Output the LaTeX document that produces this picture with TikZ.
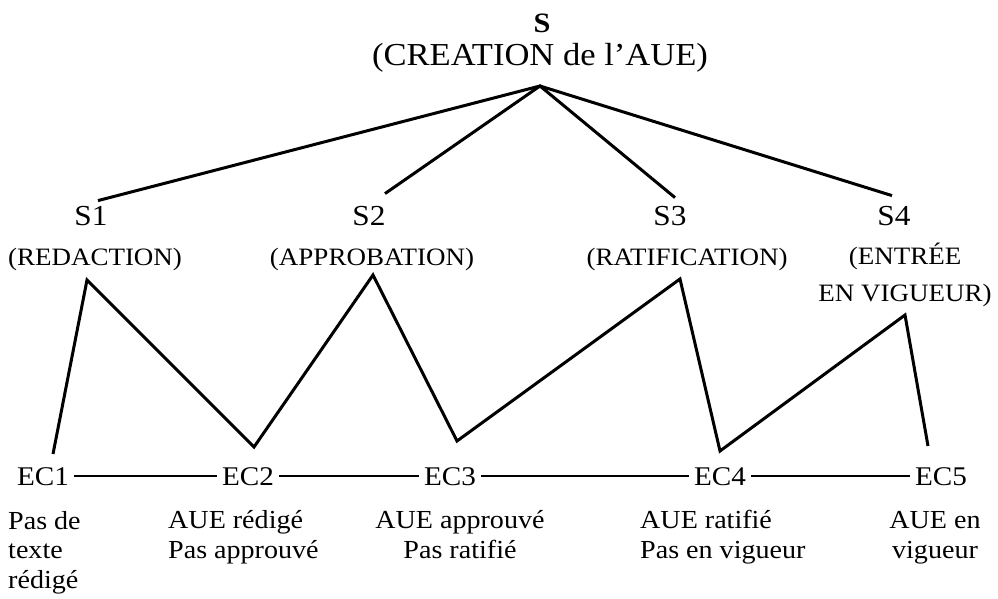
\documentclass[tikz,border=0pt]{standalone}
\usepackage{fontspec}
\setmainfont{Liberation Serif}[FakeStretch=1.08]
\begin{document}
\begin{tikzpicture}[x=1pt,y=-1pt,line join=miter,
		st/.style={anchor=base,inner sep=2pt,font=\fontsize{29}{33}\selectfont},
		lbl/.style={anchor=base,inner sep=2pt,align=center,font=\fontsize{25}{37}\selectfont},
		ec/.style={anchor=base,inner xsep=5pt,inner ysep=2pt,font=\fontsize{27}{30}\selectfont},
		txt/.style={anchor=base,inner sep=0pt,font=\fontsize{26}{29.5}\selectfont},
		zig/.style={line width=3pt},
		flat/.style={line width=1.8pt}]
	\useasboundingbox (0,0) rectangle (998,599);
	% titre
	\node[st,font=\fontsize{28}{32}\bfseries] (s) at (542,33) {S};
	\node[st,font=\fontsize{32}{36}\selectfont] (slab) at (540,66) {(CREATION de l'AUE)};
	\coordinate (apex) at (540,86);
	% sous-systemes
	\node[st] (s1) at (91,225) {S1};
	\node[st] (s2) at (369,225) {S2};
	\node[st] (s3) at (670,225) {S3};
	\node[st] (s4) at (894,225) {S4};
	\node[lbl] (s1lab) at (95,265) {(REDACTION)};
	\node[lbl] (s2lab) at (372,265) {(APPROBATION)};
	\node[lbl] (s3lab) at (687,265) {(RATIFICATION)};
	\node[lbl] (s4lab) at (905,301) {(ENTR\'EE\\EN VIGUEUR)};
	\draw[zig] ([xshift=7pt,yshift=3pt]s1.north) -- (apex) -- ([xshift=-2pt,yshift=8pt]s4.north);
	\draw[zig] ([xshift=16pt,yshift=10pt]s2.north) -- (apex) -- ([xshift=5pt,yshift=6pt]s3.north);
	% etats
	\node[ec] (ec1) at (43,485) {EC1};
	\node[ec] (ec2) at (248,485) {EC2};
	\node[ec] (ec3) at (450,485) {EC3};
	\node[ec] (ec4) at (720,485) {EC4};
	\node[ec] (ec5) at (941,485) {EC5};
	\foreach \a/\b in {ec1/ec2,ec2/ec3,ec3/ec4,ec4/ec5}
		\draw[flat] (\a.east) -- (\b.west);
	% zigzag
	\coordinate (v1) at (53,454);  \coordinate (p1) at (87,280);
	\coordinate (v2) at (254,447); \coordinate (p2) at (373,275);
	\coordinate (v3) at (457,441); \coordinate (p3) at (680,279);
	\coordinate (v4) at (720,451); \coordinate (p4) at (905,315);
	\coordinate (v5) at (928,446);
	\draw[zig] (v1) -- (p1) -- (v2) -- (p2) -- (v3) -- (p3) -- (v4) -- (p4) -- (v5);
	% descriptions
	\node[txt,align=left,anchor=base west] (d1) at (8,588) {Pas de\\texte\\r\'edig\'e};
	\node[txt,align=left,anchor=base west] (d2) at (168,558) {AUE r\'edig\'e\\Pas approuv\'e};
	\node[txt,align=center] (d3) at (460,558) {AUE approuv\'e\\Pas ratifi\'e};
	\node[txt,align=left,anchor=base west] (d4) at (640,558) {AUE ratifi\'e\\Pas en vigueur};
	\node[txt,align=center] (d5) at (935,558) {AUE en\\vigueur};
\end{tikzpicture}
\end{document}
